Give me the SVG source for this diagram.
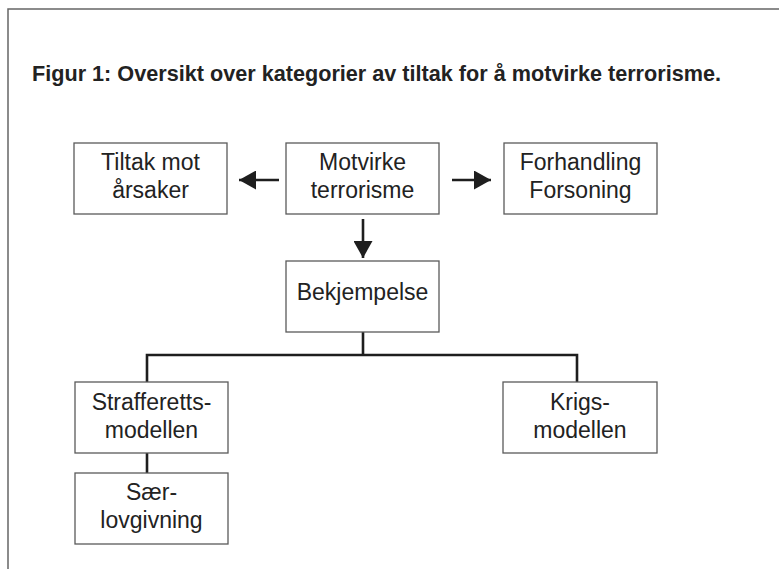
<svg xmlns="http://www.w3.org/2000/svg" width="779" height="569" viewBox="0 0 779 569">
<style>
.box{fill:#fff;stroke:#5a5a5a;stroke-width:1.3}
.lbl{font-family:"Liberation Sans",Arial,sans-serif;font-size:23px;fill:#222;text-anchor:middle}
.title{font-family:"Liberation Sans",Arial,sans-serif;font-size:21.5px;font-weight:bold;fill:#222}
.con{fill:none;stroke:#1e1e1e;stroke-width:2.6}
.frame{fill:none;stroke:#666;stroke-width:1.5}
</style>
<defs>
<marker id="ah" markerUnits="userSpaceOnUse" markerWidth="17" markerHeight="19" refX="17" refY="9.5" orient="auto">
<path d="M0,0 L17,9.5 L0,19 z" fill="#1e1e1e"/>
</marker>
</defs>
<rect width="779" height="569" fill="#fff"/>
<path class="frame" d="M8,569 V9 H779"/>
<text class="title" x="32" y="81" textLength="689" lengthAdjust="spacingAndGlyphs">Figur 1: Oversikt over kategorier av tiltak for å motvirke terrorisme.</text>
<g id="connectors">
<line class="con" x1="279" y1="180" x2="239" y2="180" marker-end="url(#ah)"/>
<line class="con" x1="452" y1="180" x2="491" y2="180" marker-end="url(#ah)"/>
<line class="con" x1="363" y1="219" x2="363" y2="258" marker-end="url(#ah)"/>
<path class="con" d="M363,332 V355 M147,382 V355 H577 V382"/>
<line class="con" x1="147" y1="453" x2="147" y2="473"/>
</g>
<g id="tiltak">
<rect class="box" x="74" y="143" width="153" height="71"/>
<text class="lbl" x="150.5" y="170">Tiltak mot</text>
<text class="lbl" x="150.5" y="198">årsaker</text>
</g>
<g id="motvirke">
<rect class="box" x="286" y="143" width="153" height="71"/>
<text class="lbl" x="362.5" y="170">Motvirke</text>
<text class="lbl" x="362.5" y="198">terrorisme</text>
</g>
<g id="forhandling">
<rect class="box" x="504" y="143" width="153" height="71"/>
<text class="lbl" x="580.5" y="170">Forhandling</text>
<text class="lbl" x="580.5" y="198">Forsoning</text>
</g>
<g id="bekjempelse">
<rect class="box" x="286" y="261" width="153" height="71"/>
<text class="lbl" x="362.5" y="300">Bekjempelse</text>
</g>
<g id="strafferett">
<rect class="box" x="75" y="382" width="153" height="71"/>
<text class="lbl" x="151.5" y="410">Strafferetts-</text>
<text class="lbl" x="151.5" y="438">modellen</text>
</g>
<g id="krig">
<rect class="box" x="503" y="382" width="154" height="71"/>
<text class="lbl" x="580" y="410">Krigs-</text>
<text class="lbl" x="580" y="438">modellen</text>
</g>
<g id="saerlov">
<rect class="box" x="75" y="473" width="153" height="71"/>
<text class="lbl" x="151.5" y="500">Sær-</text>
<text class="lbl" x="151.5" y="528">lovgivning</text>
</g>
</svg>
